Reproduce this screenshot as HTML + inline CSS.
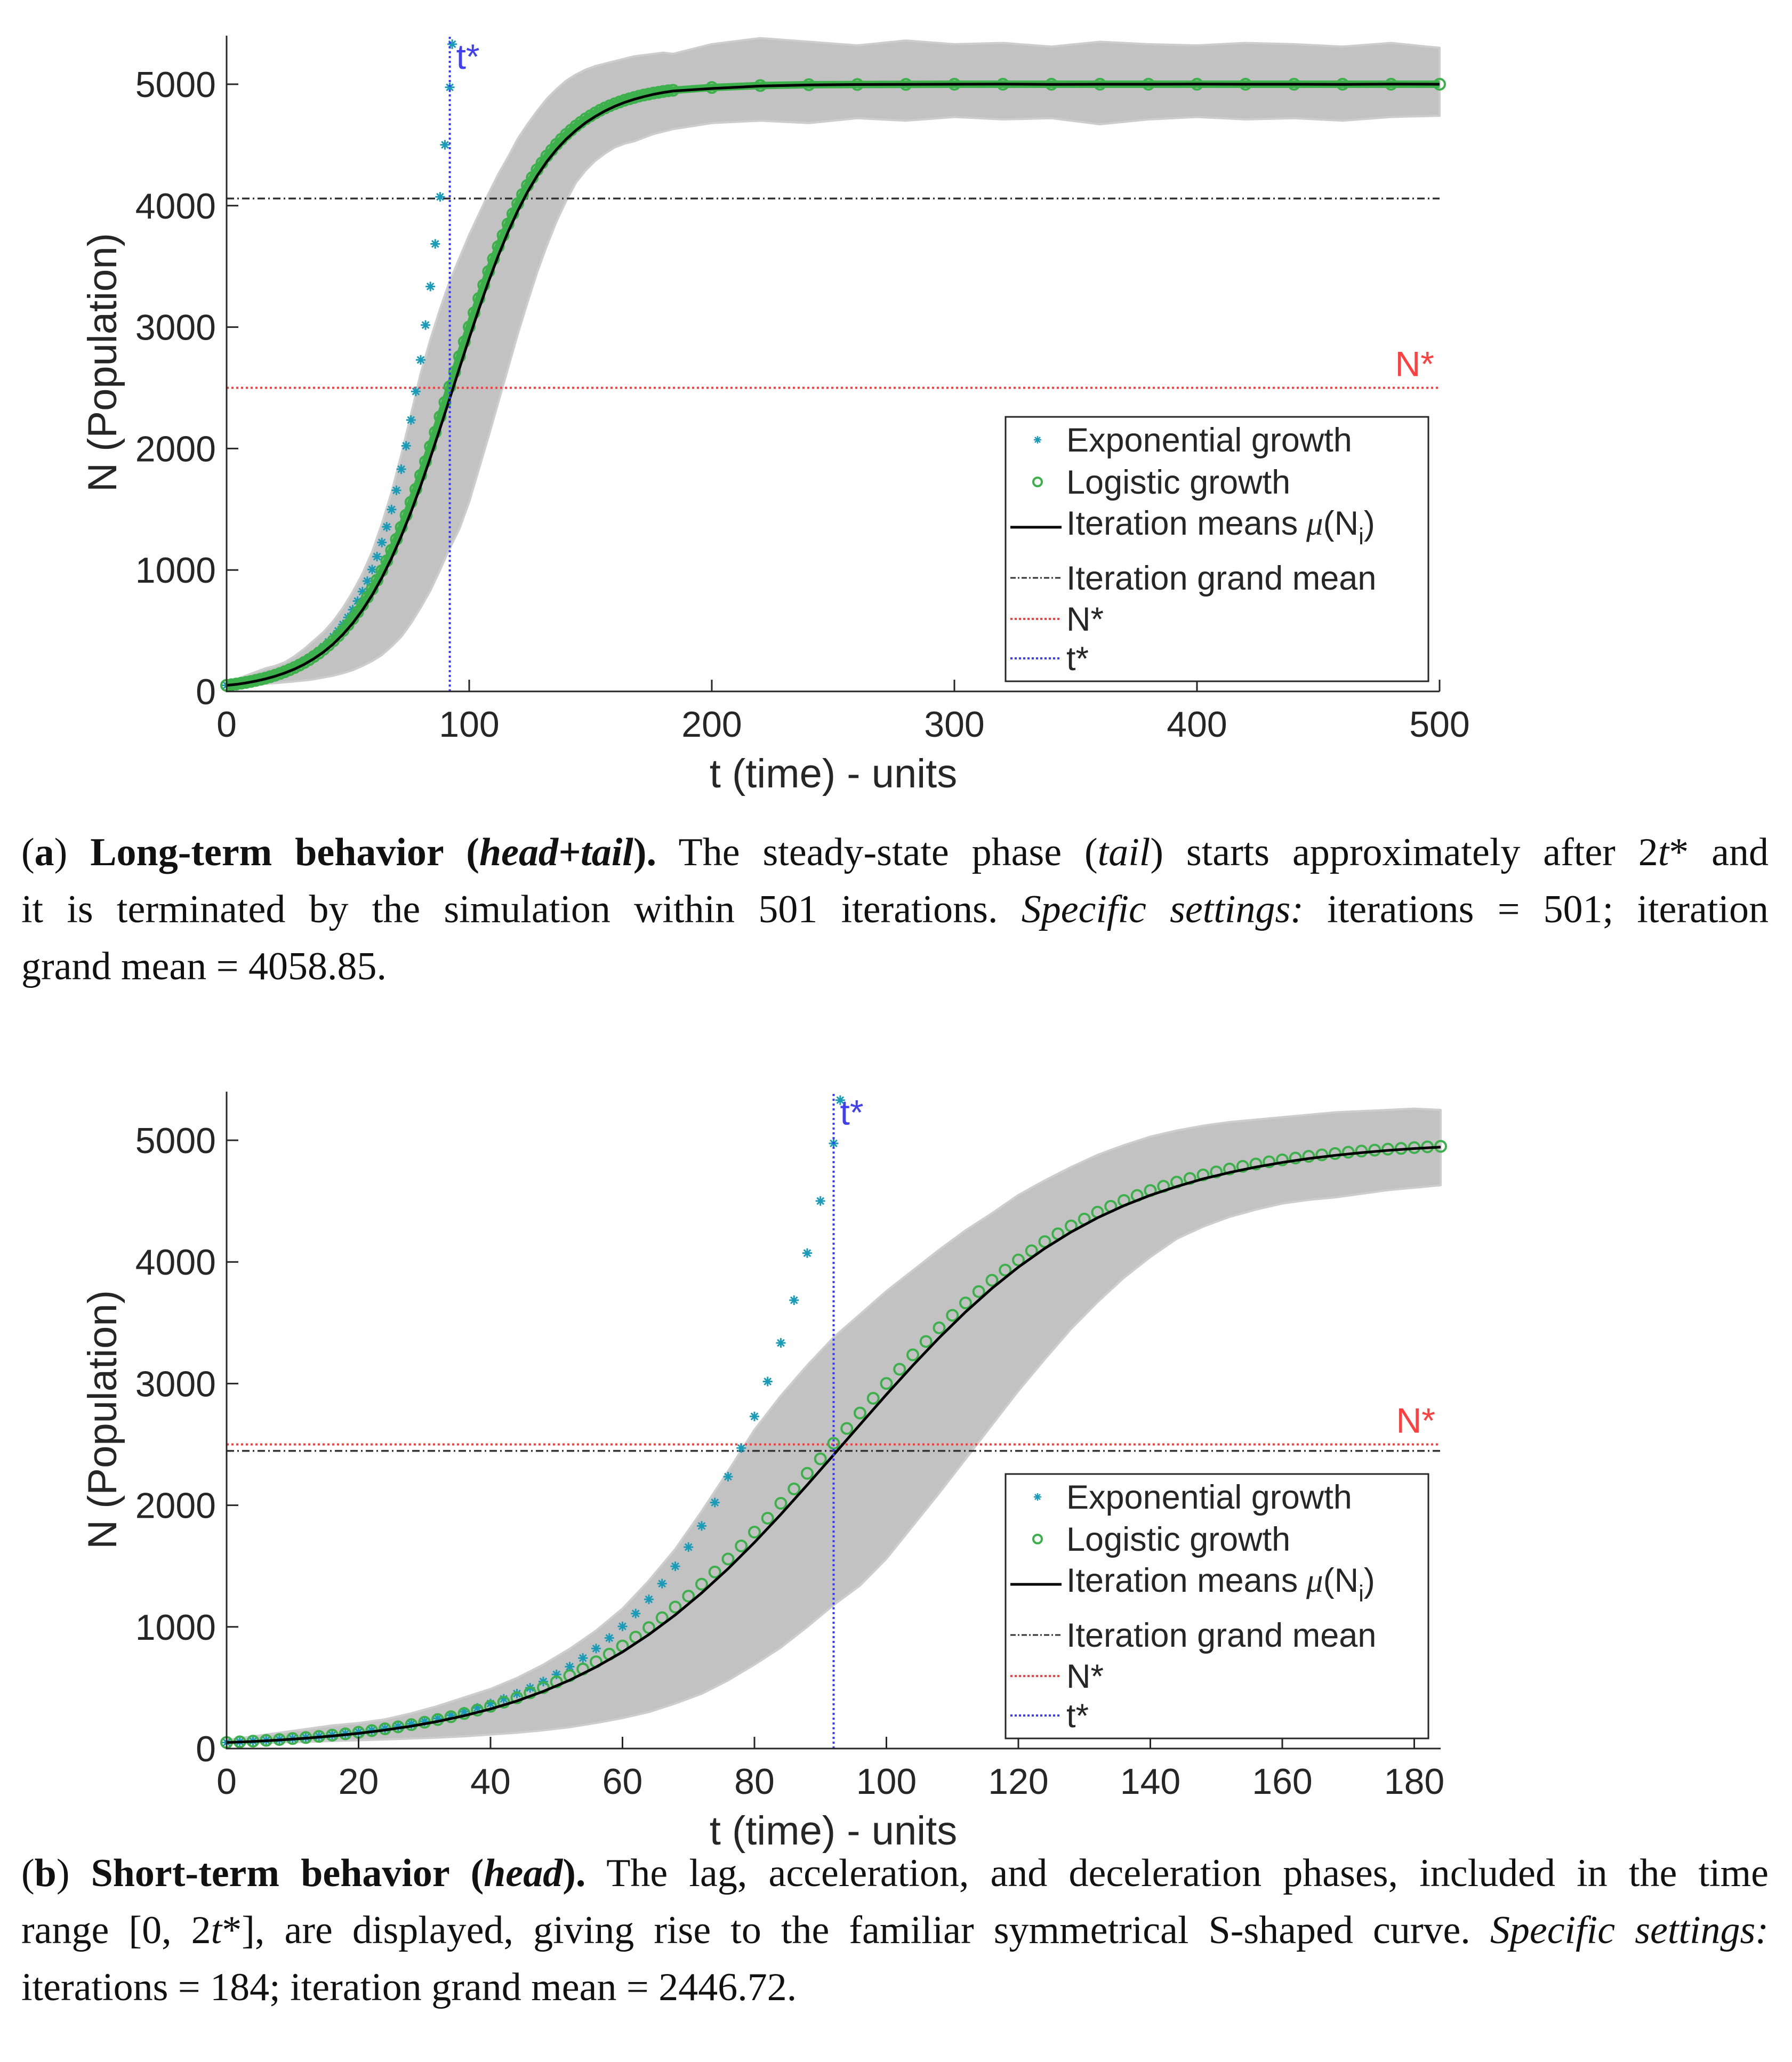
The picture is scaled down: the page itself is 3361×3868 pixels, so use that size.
<!DOCTYPE html>
<html><head><meta charset="utf-8">
<style>
body{margin:0;background:#fff;width:3361px;height:3868px;position:relative;overflow:hidden}
svg{position:absolute;left:0;top:0}
.cap{position:absolute;left:40px;width:3277px;font-family:"Liberation Serif",serif;font-size:74px;line-height:107px;color:#111}
.cap div{text-align:justify;text-align-last:justify;white-space:nowrap}
.cap div.last{text-align-last:left}
</style></head><body>
<svg id="chart" width="3361" height="3868"></svg>

<div class="cap" style="top:1546px">
<div>(<b>a</b>) <b>Long-term behavior (<i>head+tail</i>).</b> The steady-state phase (<i>tail</i>) starts approximately after 2<i>t</i>* and</div>
<div>it is terminated by the simulation within 501 iterations. <i>Specific settings:</i> iterations = 501; iteration</div>
<div class="last">grand mean = 4058.85.</div>
</div>
<div class="cap" style="top:3461px">
<div>(<b>b</b>) <b>Short-term behavior (<i>head</i>).</b> The lag, acceleration, and deceleration phases, included in the time</div>
<div>range [0, 2<i>t</i>*], are displayed, giving rise to the familiar symmetrical S-shaped curve. <i>Specific settings:</i></div>
<div class="last">iterations = 184; iteration grand mean = 2446.72.</div>
</div>

<script>
// ---- data ----
const headT = [0,4,8,12,16,20,24,28,32,36,40,44,48,52,56,60,64,68,72,76,80,84,88,92,96,100,104,108,112,116,120,124,128,132,136,140,144,148,152,156,160,164,168,172,176,180,184];
const headMean = [50,58,70,85,103,125,152,184,223,270,325,391,470,562,670,794,937,1098,1279,1478,1694,1925,2167,2414,2663,2910,3149,3377,3589,3783,3957,4111,4246,4363,4463,4548,4620,4683,4735,4780,4818,4850,4876,4898,4917,4932,4944];
const headUpper = [70,100,130,160,190,210,240,290,350,420,490,580,690,820,970,1150,1380,1640,1950,2280,2620,2900,3150,3380,3570,3760,3930,4100,4260,4400,4550,4670,4780,4880,4960,5030,5080,5120,5150,5170,5190,5210,5230,5240,5250,5260,5250];
const headLower = [40,45,50,55,62,68,75,82,90,100,115,130,150,175,210,250,300,370,450,560,690,830,1000,1180,1340,1560,1830,2100,2380,2660,2940,3200,3450,3670,3870,4040,4190,4290,4370,4430,4480,4510,4530,4560,4590,4610,4630];
const logT = [0,2,4,6,8,10,12,14,16,18,20,22,24,26,28,30,32,34,36,38,40,42,44,46,48,50,52,54,56,58,60,62,64,66,68,70,72,74,76,78,80,82,84,86,88,90,92,94,96,98,100,102,104,106,108,110,112,114,116,118,120,122,124,126,128,130,132,134,136,138,140,142,144,146,148,150,152,154,156,158,160,162,164,166,168,170,172,174,176,178,180,182,184];
const logN = [50,55.2,60.9,67.3,74.2,82,90.4,99.7,110,121.2,133.6,147.3,162.2,178.7,196.8,216.5,238.2,261.9,288,316.2,347.2,381.1,417.2,457.8,501,547.9,599,653.3,713,775.5,843,915.8,994,1075,1163,1253,1351,1451,1558,1665,1779,1893,2016,2134,2262,2381,2509,2631,2758,2879,3001,3118,3236,3346,3458,3561,3663,3756,3849,3933,4016,4092,4167,4231,4296,4352,4409,4457,4505,4546,4587,4622,4656,4686,4715,4740,4764,4786,4805,4823,4839,4854,4868,4880,4891,4902,4911,4919,4927,4933,4940,4946,4950];
const tailT = [200,220,240,260,280,300,320,340,360,380,400,420,440,460,480,500];
const tailLogistic = [4973,4989,4996,4998,4999,5000,5000,5000,5000,5000,5000,5000,5000,5000,5000,5000];
const tailMean = [4965,4985,4994,4998,4999,5000,5001,4999,5000,5000,5001,5000,5000,4999,5001,5000];
const tailUpper = [5330,5380,5350,5320,5360,5330,5340,5310,5350,5330,5320,5340,5330,5310,5340,5300];
const tailLower = [4680,4700,4680,4720,4700,4730,4710,4720,4670,4710,4730,4710,4720,4700,4730,4740];
const expT = [0,2,4,6,8,10,12,14,16,18,20,22,24,26,28,30,32,34,36,38,40,42,44,46,48,50,52,54,56,58,60,62,64,66,68,70,72,74,76,78,80,82,84,86,88,90,92,93];
const expN = [50,55.3,61.1,67.5,74.6,82.4,91.1,100.7,111.3,123,135.9,150.2,166,183.5,202.8,224.1,247.7,273.7,302.5,334.3,369.5,408.4,451.3,498.8,551.2,609.1,673.2,744,822.2,908.7,1004.3,1109.9,1226.6,1355.6,1498.2,1655.8,1829.9,2022.4,2235.1,2470.2,2730,3017.1,3334.4,3685.1,4072.7,4501.1,4974.5,5330];
const tStar = 92, nStar = 2500;
const grandMeanA = 4058.85, grandMeanB = 2446.72;
const xTicksA = [0,100,200,300,400,500];
const xTicksB = [0,20,40,60,80,100,120,140,160,180];
const yTicks = [0,1000,2000,3000,4000,5000];
const legendLabels = ["Exponential growth","Logistic growth","Iteration means","Iteration grand mean","N*","t*"];

const NS = "http://www.w3.org/2000/svg";
const svg = document.getElementById('chart');
function mk(tag, attrs, parent){
  const e = document.createElementNS(NS, tag);
  for (const k in attrs) e.setAttribute(k, attrs[k]);
  (parent||svg).appendChild(e); return e;
}

function drawPlot(cfg){
  const g = mk('g', {});
  
  
  const X = t => cfg.x0 + t / cfg.xmax * (cfg.x1 - cfg.x0);
  const Y = v => cfg.y0 - v * cfg.ys;
  const T = cfg.T, yTop = cfg.y0 - 5400 * cfg.ys;
  let pts = T.map((t,i)=>X(t)+','+Y(cfg.upper[i]));
  for (let i=T.length-1;i>=0;i--) pts.push(X(T[i])+','+Y(cfg.lower[i]));
  const band = mk('polygon', {points: pts.join(' '), fill:'#c2c2c2', stroke:'#cdcdcd', 'stroke-width':4, 'stroke-linejoin':'round'}, g);
  
  
  const gm = mk('line', {x1:cfg.x0, x2:cfg.x1, y1:Y(cfg.gm), y2:Y(cfg.gm), stroke:'#333', 'stroke-width':3.5, 'stroke-dasharray':'14 6 3 6'}, g);
  
  
  const ns = mk('line', {x1:cfg.x0, x2:cfg.x1, y1:Y(nStar), y2:Y(nStar), stroke:'#ff3b3b', 'stroke-width':4, 'stroke-dasharray':'4 5'}, g);
  
  
  expT.forEach((t,i)=>{
    if (t > cfg.xmax) return;
    const cx = X(t), cy = Y(expN[i]), r = 9;
    const s = mk('path', {d:`M${cx-r},${cy}H${cx+r}M${cx},${cy-r}V${cy+r}M${cx-r*0.7},${cy-r*0.7}L${cx+r*0.7},${cy+r*0.7}M${cx-r*0.7},${cy+r*0.7}L${cx+r*0.7},${cy-r*0.7}`, stroke:'#1a9cb8', 'stroke-width':3}, g);
    
    
  });
  if (cfg.lw) mk('polyline', {points: cfg.LT.map((t,i)=>X(t)+','+Y(cfg.logi[i])).join(' '), fill:'none', stroke:'#3cb04a', 'stroke-width':cfg.lw}, g);
  cfg.LT.forEach((t,i)=>{
    const c = mk('circle', {cx:X(t), cy:Y(cfg.logi[i]), r:10, fill:'none', stroke:'#3cb04a', 'stroke-width':4}, g);
    
    
  });
  const m = mk('polyline', {points: T.map((t,i)=>X(t)+','+Y(cfg.mean[i])).join(' '), fill:'none', stroke:'#000', 'stroke-width':5}, g);
  
  
  const ts = mk('line', {x1:X(tStar), x2:X(tStar), y1:cfg.y0, y2:yTop, stroke:'#3b3bff', 'stroke-width':4, 'stroke-dasharray':'4 5'}, g);
  
  
  const tl = mk('text', {x:X(tStar)+12, y:yTop+62, fill:'#4040f0', 'font-family':'Liberation Sans, sans-serif', 'font-size':66}, g);
  tl.textContent = 't*';
  
  
  const nl = mk('text', {x:cfg.x1-10, y:Y(nStar)-22, fill:'#ff4040', 'font-family':'Liberation Sans, sans-serif', 'font-size':66, 'text-anchor':'end'}, g);
  nl.textContent = 'N*';
  
  
  mk('path', {d:`M${cfg.x0},${yTop}V${cfg.y0}H${cfg.x1}`, fill:'none', stroke:'#262626', 'stroke-width':3}, g);
  yTicks.forEach(v=>{
    mk('line', {x1:cfg.x0, x2:cfg.x0+22, y1:Y(v), y2:Y(v), stroke:'#262626', 'stroke-width':3}, g);
    const t = mk('text', {x:cfg.x0-20, y:Y(v)+24, 'text-anchor':'end', fill:'#262626', 'font-family':'Liberation Sans, sans-serif', 'font-size':68}, g);
    t.textContent = v;
    
    
  });
  cfg.xticks.forEach(v=>{
    mk('line', {x1:X(v), x2:X(v), y1:cfg.y0, y2:cfg.y0-22, stroke:'#262626', 'stroke-width':3}, g);
    const t = mk('text', {x:X(v), y:cfg.y0+85, 'text-anchor':'middle', fill:'#262626', 'font-family':'Liberation Sans, sans-serif', 'font-size':68}, g);
    t.textContent = v;
    
    
  });
  const xl = mk('text', {x:1563, y:cfg.y0+180, 'text-anchor':'middle', fill:'#262626', 'font-family':'Liberation Sans, sans-serif', 'font-size':76}, g);
  xl.textContent = 't (time) - units';
  
  
  const yc = cfg.y0 - 617;
  const yl = mk('text', {x:0, y:0, transform:`translate(218,${yc}) rotate(-90)`, 'text-anchor':'middle', fill:'#262626', 'font-family':'Liberation Sans, sans-serif', 'font-size':76}, g);
  yl.textContent = 'N (Population)';
  
  
  const ly = cfg.y0 - 515;
  const lg = mk('g', {}, g);
  
  
  mk('rect', {x:1886, y:ly, width:793, height:496, fill:'#fff', stroke:'#262626', 'stroke-width':3}, lg);
  const rows = [43,122,199,302,379,453];
  rows.forEach((ry,i)=>{
    const cy = ly + ry;
    if (i===0){ const r=7,cx=1946; mk('path',{d:`M${cx-r},${cy}H${cx+r}M${cx},${cy-r}V${cy+r}M${cx-5},${cy-5}L${cx+5},${cy+5}M${cx-5},${cy+5}L${cx+5},${cy-5}`,stroke:'#1a9cb8','stroke-width':2.5},lg); }
    if (i===1) mk('circle',{cx:1946,cy:cy,r:8,fill:'none',stroke:'#3cb04a','stroke-width':4},lg);
    if (i===2) mk('line',{x1:1895,x2:1991,y1:cy+8,y2:cy+8,stroke:'#000','stroke-width':5},lg);
    if (i===3) mk('line',{x1:1895,x2:1990,y1:cy,y2:cy,stroke:'#333','stroke-width':3,'stroke-dasharray':'10 4 3 4'},lg);
    if (i===4) mk('line',{x1:1895,x2:1990,y1:cy,y2:cy,stroke:'#ff3b3b','stroke-width':4,'stroke-dasharray':'4 4'},lg);
    if (i===5) mk('line',{x1:1895,x2:1990,y1:cy,y2:cy,stroke:'#3b3bff','stroke-width':4,'stroke-dasharray':'4 4'},lg);
    const t = mk('text',{x:2000,y:cy+22,fill:'#262626','font-family':'Liberation Sans, sans-serif','font-size':63},lg);
    t.textContent = legendLabels[i];
    if (i===2){
      const a = mk('tspan',{'font-family':'Liberation Serif, serif','font-style':'italic'},t); a.textContent=' μ';
      const b = mk('tspan',{},t); b.textContent='(N';
      const c = mk('tspan',{dy:18,'font-size':44},t); c.textContent='i';
      const d = mk('tspan',{dy:-18},t); d.textContent=')';
    }
    
    
  });
}

drawPlot({name:'plot-long-term', x0:425, x1:2700, xmax:500, y0:1297, ys:0.2278,
  T: headT.concat(tailT), upper: headUpper.concat(tailUpper), lower: headLower.concat(tailLower),
  LT: logT.concat(tailT), logi: logN.concat(tailLogistic), mean: headMean.concat(tailMean), gm: grandMeanA, xticks: xTicksA, lw:14});
drawPlot({name:'plot-short-term', x0:425, x1:2702, xmax:184, y0:3280, ys:0.2282,
  T: headT, upper: headUpper, lower: headLower, LT: logT, logi: logN, mean: headMean, gm: grandMeanB, xticks: xTicksB, lw:0});
</script>
</body></html>
